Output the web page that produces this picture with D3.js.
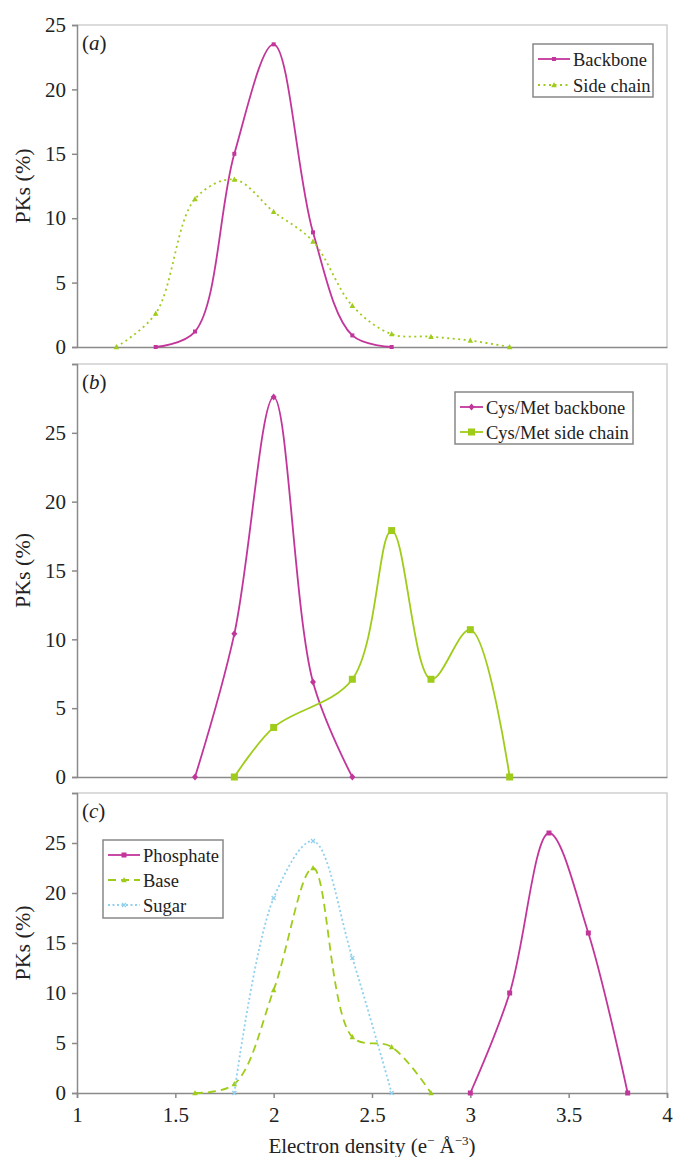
<!DOCTYPE html>
<html><head><meta charset="utf-8">
<script src="https://cdn.jsdelivr.net/npm/d3@7/dist/d3.min.js"></script>
<style>
body{margin:0;background:#fff;}
svg{display:block;}
text{font-family:'Liberation Serif', serif;}
</style></head>
<body><svg id="c" width="673" height="1157" font-family="'Liberation Serif', serif"></svg>
<script>
// ---- data ----
const xTicks = [1, 1.5, 2, 2.5, 3, 3.5, 4];
const yTicksA = [0, 5, 10, 15, 20, 25];
const yTicksBC = [0, 5, 10, 15, 20, 25, 30];

const backboneX = [1.4, 1.6, 1.8, 2.0, 2.2, 2.4, 2.6];
const backboneY = [0, 1.2, 15, 23.5, 8.9, 0.9, 0];
const sideChainX = [1.2, 1.4, 1.6, 1.8, 2.0, 2.2, 2.4, 2.6, 2.8, 3.0, 3.2];
const sideChainY = [0, 2.6, 11.5, 13, 10.5, 8.2, 3.2, 1.0, 0.8, 0.5, 0];

const cysBackboneX = [1.6, 1.8, 2.0, 2.2, 2.4];
const cysBackboneY = [0, 10.4, 27.6, 6.9, 0];
const cysSideX = [1.8, 2.0, 2.4, 2.6, 2.8, 3.0, 3.2];
const cysSideY = [0, 3.6, 7.1, 17.9, 7.1, 10.7, 0];

const phosphateX = [3.0, 3.2, 3.4, 3.6, 3.8];
const phosphateY = [0, 10, 26, 16, 0];
const baseX = [1.6, 1.8, 2.0, 2.2, 2.4, 2.6, 2.8];
const baseY = [0, 0.9, 10.3, 22.5, 5.6, 4.6, 0];
const sugarX = [1.8, 2.0, 2.2, 2.4, 2.6];
const sugarY = [0, 19.5, 25.2, 13.5, 0];

const MAG = "#c2369b", GRN = "#9fcc1a", BLU = "#8fd0ee";
const FONT = "'Liberation Serif', serif";

const svg = d3.select("#c");
const L = 77, R = 667;
const x = d3.scaleLinear().domain([1, 4]).range([L, R]);

const zip = (xs, ys) => xs.map((v, i) => [v, ys[i]]);

const panels = [
  { label: "a", top: 25, bottom: 347, ymax: 25, ticks: yTicksA, showX: false,
    series: [
      { name: "Backbone", data: zip(backboneX, backboneY), color: MAG, dash: null, marker: "square", size: 4 },
      { name: "Side chain", data: zip(sideChainX, sideChainY), color: GRN, dash: "2,3.5", marker: "triangle", size: 5 }
    ],
    legend: { x: 533, y: 44, w: 120, h: 53, rows: [59, 85], l0: 5, l1: 37, tx: 40 } },
  { label: "b", top: 364, bottom: 777, ymax: 30, ticks: yTicksBC, hideTop: true, showX: false,
    series: [
      { name: "Cys/Met backbone", data: zip(cysBackboneX, cysBackboneY), color: MAG, dash: null, marker: "diamond", size: 5 },
      { name: "Cys/Met side chain", data: zip(cysSideX, cysSideY), color: GRN, dash: null, marker: "square", size: 7 }
    ],
    legend: { x: 455, y: 392, w: 178, h: 52, rows: [407, 432], l0: 5, l1: 28, tx: 31 } },
  { label: "c", top: 793, bottom: 1093, ymax: 30, ticks: yTicksBC, hideTop: true, showX: true,
    series: [
      { name: "Phosphate", data: zip(phosphateX, phosphateY), color: MAG, dash: null, marker: "square", size: 5 },
      { name: "Base", data: zip(baseX, baseY), color: GRN, dash: "8,5", marker: "triangle", size: 5 },
      { name: "Sugar", data: zip(sugarX, sugarY), color: BLU, dash: "2,2.5", marker: "x", size: 4 }
    ],
    legend: { x: 103, y: 840, w: 120, h: 78, rows: [855, 880, 905], l0: 5, l1: 37, tx: 40 } }
];

function marker(g, type, cx, cy, s, color) {
  if (type === "square") {
    g.append("rect").attr("x", cx - s / 2).attr("y", cy - s / 2).attr("width", s).attr("height", s).attr("fill", color);
  } else if (type === "triangle") {
    g.append("path").attr("d", `M${cx},${cy - s * 0.6}L${cx + s * 0.55},${cy + s * 0.45}L${cx - s * 0.55},${cy + s * 0.45}Z`).attr("fill", color);
  } else if (type === "diamond") {
    g.append("path").attr("d", `M${cx},${cy - s * 0.7}L${cx + s * 0.6},${cy}L${cx},${cy + s * 0.7}L${cx - s * 0.6},${cy}Z`).attr("fill", color);
  } else if (type === "x") {
    const h = s / 2;
    g.append("path").attr("d", `M${cx - h},${cy - h}L${cx + h},${cy + h}M${cx - h},${cy + h}L${cx + h},${cy - h}`)
      .attr("stroke", color).attr("stroke-width", 1.2).attr("fill", "none");
  }
}

panels.forEach(p => {
  const y = d3.scaleLinear().domain([0, p.ymax]).range([p.bottom, p.top]);
  const g = svg.append("g");

  // plot-area border (top & right)
  g.append("path").attr("d", `M${L},${p.top}H${R}V${p.bottom}`).attr("fill", "none").attr("stroke", "#cfcfcf").attr("stroke-width", 1.5);

  // y axis
  const yAxis = d3.axisLeft(y).tickValues(p.ticks).tickSize(5).tickPadding(6)
    .tickFormat(d => (p.hideTop && d === p.ymax) ? "" : d);
  const ya = g.append("g").attr("transform", `translate(${L},0)`).call(yAxis).attr("font-family", FONT);
  ya.select(".domain").attr("stroke", "#8a8a8a").attr("stroke-width", 1.5);
  ya.selectAll(".tick line").attr("stroke", "#8a8a8a").attr("stroke-width", 1.5);
  ya.selectAll(".tick text").attr("font-size", 21).attr("fill", "#222").attr("font-family", FONT);

  // x axis
  const xAxis = d3.axisBottom(x).tickValues(xTicks).tickSize(p.showX ? 5 : 0).tickPadding(9)
    .tickFormat(d => p.showX ? d : "");
  const xa = g.append("g").attr("transform", `translate(0,${p.bottom})`).call(xAxis).attr("font-family", FONT);
  xa.select(".domain").attr("stroke", "#8a8a8a").attr("stroke-width", 1.5);
  xa.selectAll(".tick line").attr("stroke", "#8a8a8a").attr("stroke-width", 1.5);
  xa.selectAll(".tick text").attr("font-size", 21).attr("fill", "#222").attr("font-family", FONT);

  // y title
  g.append("text").attr("transform", `translate(30,${(p.top + p.bottom) / 2}) rotate(-90)`)
    .attr("text-anchor", "middle").attr("font-size", 22).attr("fill", "#222").attr("font-family", FONT).text("PKs (%)");

  // panel label
  const lab = g.append("text").attr("x", 82).attr("y", p.top + 25).attr("font-size", 21).attr("fill", "#222").attr("font-family", FONT);
  lab.append("tspan").text("(");
  lab.append("tspan").attr("font-style", "italic").text(p.label);
  lab.append("tspan").text(")");

  // series
  const line = d3.line().x(d => x(d[0])).y(d => y(d[1])).curve(d3.curveCatmullRom.alpha(0.5));
  p.series.forEach(s => {
    g.append("path").attr("d", line(s.data)).attr("fill", "none").attr("stroke", s.color)
      .attr("stroke-width", 1.8).attr("stroke-dasharray", s.dash);
    const mg = g.append("g");
    s.data.forEach(d => marker(mg, s.marker, x(d[0]), y(d[1]), s.size, s.color));
  });

  // legend
  const lg = p.legend;
  g.append("rect").attr("x", lg.x).attr("y", lg.y).attr("width", lg.w).attr("height", lg.h)
    .attr("fill", "#fff").attr("stroke", "#888").attr("stroke-width", 1.5);
  p.series.forEach((s, i) => {
    const cy = lg.rows[i];
    g.append("line").attr("x1", lg.x + lg.l0).attr("x2", lg.x + lg.l1).attr("y1", cy).attr("y2", cy)
      .attr("stroke", s.color).attr("stroke-width", 1.8).attr("stroke-dasharray", s.dash);
    marker(g, s.marker, lg.x + (lg.l0 + lg.l1) / 2, cy, s.size, s.color);
    g.append("text").attr("x", lg.x + lg.tx).attr("y", cy + 6.5).attr("font-size", 18.5).attr("fill", "#222").attr("font-family", FONT).text(s.name);
  });
});

// x title
const xt = svg.append("text").attr("x", 372).attr("y", 1153).attr("text-anchor", "middle").attr("font-size", 21).attr("fill", "#222").attr("font-family", FONT);
xt.append("tspan").text("Electron density (e");
xt.append("tspan").attr("font-size", 13).attr("dy", -8).text("\u2212");
xt.append("tspan").attr("dy", 8).text(" \u00C5");
xt.append("tspan").attr("font-size", 13).attr("dy", -8).text("\u22123");
xt.append("tspan").attr("dy", 8).text(")");
</script></body></html>
